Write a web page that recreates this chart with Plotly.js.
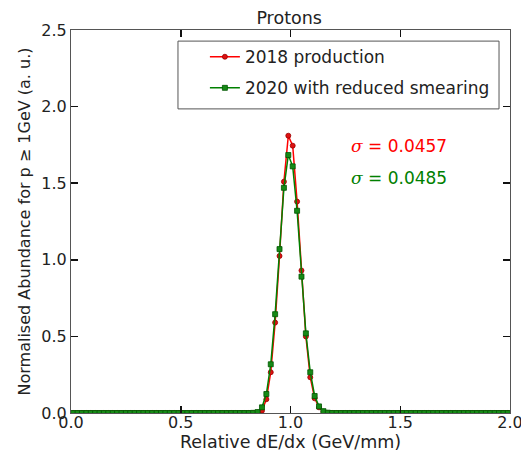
<!DOCTYPE html>
<html>
<head>
<meta charset="utf-8">
<script src="https://cdn.plot.ly/plotly-3.0.1.min.js"></script>
<style>html,body{margin:0;padding:0;background:#fff;}#chart{width:521px;height:459px;}</style>
</head>
<body>
<div id="chart"></div>
<script>
var binCenters = [
 0.01,0.03,0.05,0.07,0.09,0.11,0.13,0.15,0.17,0.19,
 0.21,0.23,0.25,0.27,0.29,0.31,0.33,0.35,0.37,0.39,
 0.41,0.43,0.45,0.47,0.49,0.51,0.53,0.55,0.57,0.59,
 0.61,0.63,0.65,0.67,0.69,0.71,0.73,0.75,0.77,0.79,
 0.81,0.83,0.85,0.87,0.89,0.91,0.93,0.95,0.97,0.99,
 1.01,1.03,1.05,1.07,1.09,1.11,1.13,1.15,1.17,1.19,
 1.21,1.23,1.25,1.27,1.29,1.31,1.33,1.35,1.37,1.39,
 1.41,1.43,1.45,1.47,1.49,1.51,1.53,1.55,1.57,1.59,
 1.61,1.63,1.65,1.67,1.69,1.71,1.73,1.75,1.77,1.79,
 1.81,1.83,1.85,1.87,1.89,1.91,1.93,1.95,1.97,1.99
];
var prod2018 = [
 0,0,0,0,0,0,0,0,0,0,
 0,0,0,0,0,0,0,0,0,0,
 0,0,0,0,0,0,0,0,0,0,
 0,0,0,0,0,0,0,0,0,0,
 0,0.0005,0.003,0.015,0.09,0.266,0.59,1.025,1.51,1.81,
 1.745,1.38,0.93,0.50,0.233,0.096,0.037,0.008,0.001,0,
 0,0,0,0,0,0,0,0,0,0,
 0,0,0,0,0,0,0,0,0,0,
 0,0,0,0,0,0,0,0,0,0,
 0,0,0,0,0,0,0,0,0,0
];
var reduced2020 = [
 0,0,0,0,0,0,0,0,0,0,
 0,0,0,0,0,0,0,0,0,0,
 0,0,0,0,0,0,0,0,0,0,
 0,0,0,0,0,0,0,0,0,0,
 0,0.001,0.006,0.037,0.124,0.318,0.645,1.07,1.47,1.684,
 1.61,1.32,0.89,0.52,0.266,0.111,0.043,0.012,0.002,0,
 0,0,0,0,0,0,0,0,0,0,
 0,0,0,0,0,0,0,0,0,0,
 0,0,0,0,0,0,0,0,0,0,
 0,0,0,0,0,0,0,0,0,0
];
var seriesNames = ['2018 production', '2020 with reduced smearing'];
var sigmaTexts = ['0.0457', '0.0485'];
var xTicks = [0.0, 0.5, 1.0, 1.5, 2.0];
var yTicks = [0.0, 0.5, 1.0, 1.5, 2.0, 2.5];

var font = 'DejaVu Sans, sans-serif';
var traces = [
  {x: binCenters, y: prod2018, name: seriesNames[0], legendgroup: 'a', mode: 'lines+markers', type: 'scatter',
   line: {color: '#ff0000', width: 1.5},
   marker: {symbol: 'circle', size: 5, color: '#dd1111', line: {color: '#990000', width: 0.8}}},
  {x: binCenters, y: reduced2020, name: seriesNames[1], legendgroup: 'b', mode: 'lines+markers', type: 'scatter',
   line: {color: '#008000', width: 1.5},
   marker: {symbol: 'square', size: 5, color: '#168a16', line: {color: '#005500', width: 0.8}}}
];
var axisCommon = {
  showline: true, mirror: 'ticks', linecolor: '#555', linewidth: 1,
  ticks: 'inside', ticklen: 7, tickwidth: 1.5, tickcolor: '#111',
  showgrid: false, zeroline: false, ticklabeloverflow: 'allow',
  tickfont: {family: font, size: 16, color: '#222'}
};
var layout = {
  width: 521, height: 459,
  margin: {l: 71, r: 11, t: 30, b: 46},
  paper_bgcolor: '#fff', plot_bgcolor: '#fff',
  title: {text: 'Protons', font: {family: font, size: 17.5, color: '#222'}, x: 0.555, xanchor: 'center', y: 0.961, yanchor: 'middle'},
  xaxis: Object.assign({}, axisCommon, {range: [0, 2], tickvals: xTicks, ticktext: xTicks.map(function(v){return v.toFixed(1);}),
    ticklabelstandoff: -5,
    title: {text: 'Relative dE/dx (GeV/mm)', font: {family: font, size: 17.5, color: '#222'}, standoff: 0}}),
  yaxis: Object.assign({}, axisCommon, {range: [0, 2.5], tickvals: yTicks, ticktext: yTicks.map(function(v){return v.toFixed(1);}),
    title: {text: 'Normalised Abundance for p \u2265 1GeV (a. u.)', font: {family: font, size: 16, color: '#222'}, standoff: 6}}),
  legend: {x: 0.305, y: 0.976, xanchor: 'left', yanchor: 'top', bgcolor: 'rgba(0,0,0,0)', borderwidth: 0,
    traceorder: 'grouped', tracegroupgap: 6,
    font: {family: font, size: 17, color: '#222'}},
  showlegend: true,
  shapes: [
    {type: 'rect', xref: 'paper', yref: 'paper', x0: 0.2437, x1: 0.975, y0: 0.794, y1: 0.971,
     line: {color: '#555', width: 1}, fillcolor: '#fff', layer: 'above'}
  ],
  annotations: [
    {xref: 'x', yref: 'y', x: 1.72, y: 1.743, xanchor: 'right', yanchor: 'middle', showarrow: false,
     text: '<span style="font-family:DejaVu Serif"><i>\u03c3</i></span> = ' + sigmaTexts[0], font: {family: font, size: 17, color: '#ff0000'}},
    {xref: 'x', yref: 'y', x: 1.72, y: 1.534, xanchor: 'right', yanchor: 'middle', showarrow: false,
     text: '<span style="font-family:DejaVu Serif"><i>\u03c3</i></span> = ' + sigmaTexts[1], font: {family: font, size: 17, color: '#008000'}}
  ]
};
Plotly.newPlot('chart', traces, layout, {displayModeBar: false, staticPlot: true});
</script>
</body>
</html>
